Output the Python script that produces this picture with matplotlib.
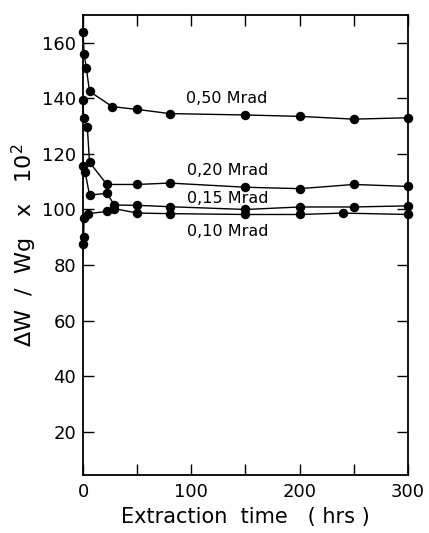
import matplotlib
matplotlib.use("Agg")
import matplotlib.pyplot as plt

# Data (hrs, ΔW/Wg x 10^2)
x_050 = [0, 1, 3, 6, 27, 50, 80, 150, 200, 250, 300]
y_050 = [164, 156, 151, 142.5, 137, 136, 134.5, 134, 133.5, 132.5, 133]

x_020 = [0, 0.5, 4, 6, 22, 50, 80, 150, 200, 250, 300]
y_020 = [139.5, 133, 129.5, 117, 109, 109, 109.5, 108, 107.5, 109, 108.3]

x_015 = [0, 2, 6, 22, 29, 50, 80, 150, 200, 250, 300]
y_015 = [115.5, 113.4, 105.2, 105.8, 101.6, 101.5, 101, 100, 100.9, 100.9, 101.3]

x_010 = [0, 0.5, 1, 5, 22, 29, 50, 80, 150, 200, 240, 300]
y_010 = [87.5, 90, 97, 98.5, 99.3, 100.3, 98.7, 98.5, 98.2, 98.2, 98.7, 98.2]

labels = ["0,50 Mrad", "0,20 Mrad", "0,15 Mrad", "0,10 Mrad"]
label_pos = [(95, 140.1), (96, 114), (96, 103.9), (96, 91.9)]

x_ticks = [0, 50, 100, 150, 200, 250, 300]
x_ticklabels = ["0", "", "100", "", "200", "", "300"]
y_ticks = [20, 40, 60, 80, 100, 120, 140, 160]

fig = plt.figure(figsize=(4.29, 5.33), dpi=100)
ax = fig.add_axes([0.1935, 0.109, 0.951 - 0.1935, 0.972 - 0.109])

for xs, ys in [(x_050, y_050), (x_020, y_020), (x_015, y_015), (x_010, y_010)]:
    ax.plot(xs, ys, color="black", lw=1.0, marker="o", ms=5.8,
            markerfacecolor="black", markeredgecolor="black", clip_on=False, zorder=3)

for txt, (tx, ty) in zip(labels, label_pos):
    ax.text(tx, ty, txt, fontsize=11.5, ha="left", va="center")

ax.set_xlim(0, 300)
ax.set_ylim(4.5, 170)
ax.set_xticks(x_ticks)
ax.set_xticklabels(x_ticklabels, fontsize=13)
ax.set_yticks(y_ticks)
ax.set_yticklabels([str(v) for v in y_ticks], fontsize=13)
ax.tick_params(direction="in", length=8, width=1.0, top=True, right=True, pad=6)
ax.tick_params(axis="y", pad=5)
for s in ax.spines.values():
    s.set_linewidth(1.3)

ax.set_xlabel("Extraction  time   ( hrs )", fontsize=15, labelpad=4)
ax.set_ylabel(r"$\Delta$W  /  Wg   x   10$^2$", fontsize=16, labelpad=2)

fig.savefig("out.png", dpi=100)
